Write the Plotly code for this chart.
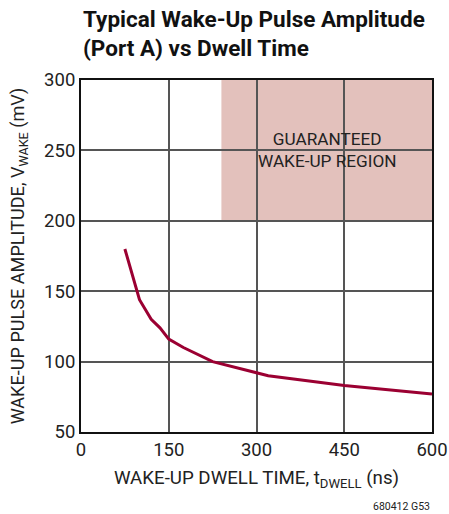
import plotly.graph_objects as go

# Data
dwell_ns = [75, 85, 100, 120, 135, 150, 175, 225, 300, 320, 450, 600]
v_wake_mv = [180, 165, 144, 130, 124, 116, 110, 100, 92.5, 90, 83, 77]

region_x = [240, 600]
region_y = [200, 300]

x_ticks = [0, 150, 300, 450, 600]
y_ticks = [50, 100, 150, 200, 250, 300]

FONT = "Roboto, Liberation Sans, sans-serif"

fig = go.Figure()
fig.add_trace(go.Scatter(
    x=dwell_ns, y=v_wake_mv, mode="lines",
    line=dict(color="#9b0032", width=3), showlegend=False, hoverinfo="skip",
))

fig.add_shape(type="rect", xref="x", yref="y",
              x0=region_x[0], x1=region_x[1], y0=region_y[0], y1=region_y[1],
              fillcolor="#e3c1bc", line=dict(width=0), layer="below")

fig.add_annotation(x=(region_x[0] + region_x[1]) / 2, y=250, xref="x", yref="y",
                   text="GUARANTEED<br>WAKE-UP REGION", showarrow=False,
                   font=dict(family=FONT, size=17.2, color="#222"), align="center")

fig.update_layout(
    width=449, height=514,
    margin=dict(l=81, r=17, t=80, b=82),
    paper_bgcolor="white", plot_bgcolor="white",
    font=dict(family=FONT, size=18.5, color="#222"),
)
fig.add_annotation(x=0, y=1 + 76 / 352, xref="paper", yref="paper",
                   xanchor="left", yanchor="top", align="left", showarrow=False,
                   text="<b>Typical Wake-Up Pulse Amplitude<br>(Port A) vs Dwell Time</b>",
                   font=dict(family=FONT, size=22.5, color="#111"))

fig.update_xaxes(range=[0, 600], tickvals=x_ticks, showgrid=True, gridcolor="#555",
                 gridwidth=1.5, showline=True, linecolor="#111", linewidth=2, mirror=True,
                 ticks="", zeroline=False, automargin=False,
                 title=dict(text="WAKE-UP DWELL TIME, t<sub>DWELL</sub> (ns)", standoff=11,
                            font=dict(size=18.7)))
fig.update_yaxes(range=[50, 300], tickvals=y_ticks, showgrid=True, gridcolor="#555",
                 gridwidth=1.5, showline=True, linecolor="#111", linewidth=2, mirror=True,
                 ticks="", zeroline=False, automargin=False,
                 title=dict(text="WAKE-UP PULSE AMPLITUDE, V<sub>WAKE</sub> (mV)", standoff=15,
                            font=dict(size=18.1)))

fig.add_annotation(x=1, y=-83 / 352, xref="paper", yref="paper",
                   text="680412 G53", showarrow=False, xanchor="right",
                   font=dict(family=FONT, size=10.5, color="#222"))

fig.write_html(
    "out.html",
    config={"displayModeBar": False},
    post_script="document.body.style.margin='0';document.body.style.overflow='hidden';",
)
